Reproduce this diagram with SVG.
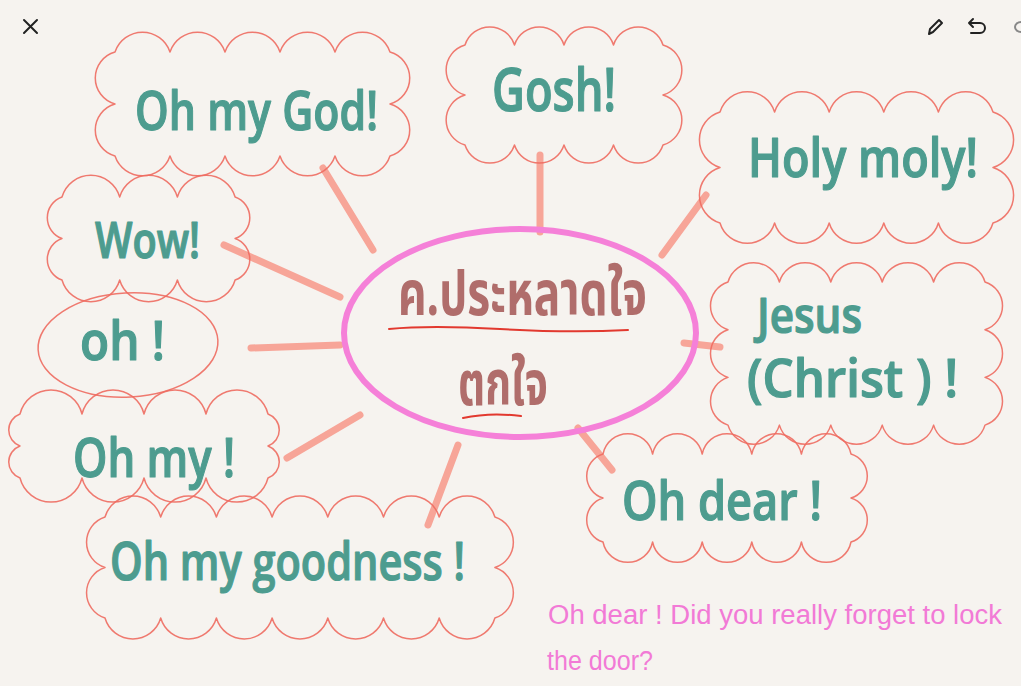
<svg xmlns="http://www.w3.org/2000/svg" width="1021" height="686" viewBox="0 0 1021 686">
<style>
.bg{fill:#f6f3ef}
.cloud{fill:none;stroke:#ee6c61;stroke-width:1.5;stroke-linejoin:round;opacity:.9}
.conn{stroke:#f7a598;stroke-width:7;stroke-linecap:round;fill:none}
.lbl{font-family:"Open Sans","Noto Sans",sans-serif;font-weight:600;fill:#4d9c8f;stroke:#4d9c8f;stroke-width:1.2;stroke-linejoin:round}
.thai{font-family:"Noto Sans Thai","Noto Sans","DejaVu Sans",sans-serif;font-weight:700;fill:#b06d6b}
.ul{stroke:#e2392f;stroke-width:2;fill:none;stroke-linecap:round}
.note{font-family:"Liberation Sans","Noto Sans",sans-serif;fill:#f27ad6}
.ui{stroke:#222;stroke-width:2;fill:none;stroke-linecap:round;stroke-linejoin:round}
</style>
<rect class="bg" x="0" y="0" width="1021" height="686"/>
<g id="toolbar">
<path class="ui" d="M24 20 L37 33 M37 20 L24 33"/>
<path class="ui" d="M929 34 L930 29 L939 20 L942 23 L933 32 Z" stroke-width="1.8"/>
<path class="ui" d="M973 19 L969 23 L973 27 M969 23 L980 23 A5 5 0 0 1 980 33 L971 33" stroke-width="1.8"/>
<path d="M1021 22 A6 5 0 0 0 1021 32" stroke="#888" stroke-width="2" fill="none"/>
</g>
<g id="connectors">
<line class="conn" x1="323" y1="168" x2="373" y2="250"/>
<line class="conn" x1="540" y1="155" x2="540" y2="232"/>
<line class="conn" x1="706" y1="195" x2="662" y2="255"/>
<line class="conn" x1="224" y1="245" x2="340" y2="297"/>
<line class="conn" x1="251" y1="348" x2="340" y2="345"/>
<line class="conn" x1="287" y1="458" x2="360" y2="415"/>
<line class="conn" x1="458" y1="445" x2="428" y2="525"/>
<line class="conn" x1="578" y1="428" x2="612" y2="470"/>
<line class="conn" x1="684" y1="343" x2="720" y2="347"/>
</g>
<g id="center">
<ellipse cx="520" cy="333" rx="176" ry="104" fill="none" stroke="#f580d8" stroke-width="6"/>
<text class="thai" x="398" y="315" font-size="62" textLength="249" lengthAdjust="spacingAndGlyphs">ค.ประหลาดใจ</text>
<path class="ul" d="M389 329 Q430 325 500 329 T628 330"/>
<text class="thai" x="458" y="405" font-size="62" textLength="90" lengthAdjust="spacingAndGlyphs">ตกใจ</text>
<path class="ul" d="M463 418 Q490 412 521 416"/>
</g>
<g id="n-ohmygod">
<path class="cloud" d="M115 52 a29 29 0 0 1 55 0 a29 29 0 0 1 55 0 a29 29 0 0 1 55 0 a29 29 0 0 1 55 0 a29 29 0 0 1 55 0 a27 27 0 0 1 0 52 a27 27 0 0 1 0 52 a29 29 0 0 1 -55 0 a29 29 0 0 1 -55 0 a29 29 0 0 1 -55 0 a29 29 0 0 1 -55 0 a29 29 0 0 1 -55 0 a27 27 0 0 1 0 -52 a27 27 0 0 1 0 -52 Z"/>
<text class="lbl" x="135" y="130" font-size="54" textLength="243" lengthAdjust="spacingAndGlyphs">Oh my God!</text>
</g>
<g id="n-gosh">
<path class="cloud" d="M465 45 a26 26 0 0 1 49.5 0 a26 26 0 0 1 49.5 0 a26 26 0 0 1 49.5 0 a26 26 0 0 1 49.5 0 a26 26 0 0 1 0 50 a26 26 0 0 1 0 50 a26 26 0 0 1 -49.5 0 a26 26 0 0 1 -49.5 0 a26 26 0 0 1 -49.5 0 a26 26 0 0 1 -49.5 0 a26 26 0 0 1 0 -50 a26 26 0 0 1 0 -50 Z"/>
<text class="lbl" x="492" y="111" font-size="60" textLength="124" lengthAdjust="spacingAndGlyphs">Gosh!</text>
</g>
<g id="n-holymoly">
<path class="cloud" d="M720 112 a28.5 28.5 0 0 1 54.6 0 a28.5 28.5 0 0 1 54.6 0 a28.5 28.5 0 0 1 54.6 0 a28.5 28.5 0 0 1 54.6 0 a28.5 28.5 0 0 1 54.6 0 a29 29 0 0 1 0 55.5 a29 29 0 0 1 0 55.5 a28.5 28.5 0 0 1 -54.6 0 a28.5 28.5 0 0 1 -54.6 0 a28.5 28.5 0 0 1 -54.6 0 a28.5 28.5 0 0 1 -54.6 0 a28.5 28.5 0 0 1 -54.6 0 a29 29 0 0 1 0 -55.5 a29 29 0 0 1 0 -55.5 Z"/>
<text class="lbl" x="748" y="177" font-size="54" textLength="230" lengthAdjust="spacingAndGlyphs">Holy moly!</text>
</g>
<g id="n-wow">
<path class="cloud" d="M62 197 a30 30 0 0 1 57.7 0 a30 30 0 0 1 57.7 0 a30 30 0 0 1 57.7 0 a22 22 0 0 1 0 41.5 a22 22 0 0 1 0 41.5 a30 30 0 0 1 -57.7 0 a30 30 0 0 1 -57.7 0 a30 30 0 0 1 -57.7 0 a22 22 0 0 1 0 -41.5 a22 22 0 0 1 0 -41.5 Z"/>
<text class="lbl" x="95" y="258" font-size="50" textLength="105" lengthAdjust="spacingAndGlyphs">Wow!</text>
</g>
<g id="n-oh">
<ellipse class="cloud" cx="128" cy="345" rx="90" ry="52" transform="rotate(-3 128 345)"/>
<text class="lbl" x="80" y="360" font-size="54" textLength="85" lengthAdjust="spacingAndGlyphs">oh !</text>
</g>
<g id="n-ohmy">
<path class="cloud" d="M20 414 a32 32 0 0 1 62 0 a32 32 0 0 1 62 0 a32 32 0 0 1 62 0 a32 32 0 0 1 62 0 a17 17 0 0 1 0 32 a17 17 0 0 1 0 32 a32 32 0 0 1 -62 0 a32 32 0 0 1 -62 0 a32 32 0 0 1 -62 0 a32 32 0 0 1 -62 0 a17 17 0 0 1 0 -32 a17 17 0 0 1 0 -32 Z"/>
<text class="lbl" x="73" y="477" font-size="54" textLength="162" lengthAdjust="spacingAndGlyphs">Oh my !</text>
</g>
<g id="n-goodness">
<path class="cloud" d="M105 517 a29 29 0 0 1 55.7 0 a29 29 0 0 1 55.7 0 a29 29 0 0 1 55.7 0 a29 29 0 0 1 55.7 0 a29 29 0 0 1 55.7 0 a29 29 0 0 1 55.7 0 a29 29 0 0 1 55.7 0 a26.5 26.5 0 0 1 0 50.5 a26.5 26.5 0 0 1 0 50.5 a29 29 0 0 1 -55.7 0 a29 29 0 0 1 -55.7 0 a29 29 0 0 1 -55.7 0 a29 29 0 0 1 -55.7 0 a29 29 0 0 1 -55.7 0 a29 29 0 0 1 -55.7 0 a29 29 0 0 1 -55.7 0 a26.5 26.5 0 0 1 0 -50.5 a26.5 26.5 0 0 1 0 -50.5 Z"/>
<text class="lbl" x="110" y="580" font-size="52" textLength="355" lengthAdjust="spacingAndGlyphs">Oh my goodness !</text>
</g>
<g id="n-ohdear">
<path class="cloud" d="M603 454 a25.3 25.3 0 0 1 49.6 0 a25.3 25.3 0 0 1 49.6 0 a25.3 25.3 0 0 1 49.6 0 a25.3 25.3 0 0 1 49.6 0 a25.3 25.3 0 0 1 49.6 0 a23 23 0 0 1 0 44 a23 23 0 0 1 0 44 a25.3 25.3 0 0 1 -49.6 0 a25.3 25.3 0 0 1 -49.6 0 a25.3 25.3 0 0 1 -49.6 0 a25.3 25.3 0 0 1 -49.6 0 a25.3 25.3 0 0 1 -49.6 0 a23 23 0 0 1 0 -44 a23 23 0 0 1 0 -44 Z"/>
<text class="lbl" x="622" y="520" font-size="54" textLength="200" lengthAdjust="spacingAndGlyphs">Oh dear !</text>
</g>
<g id="n-jesus">
<path class="cloud" d="M728 282 a26.8 26.8 0 0 1 51.4 0 a26.8 26.8 0 0 1 51.4 0 a26.8 26.8 0 0 1 51.4 0 a26.8 26.8 0 0 1 51.4 0 a26.8 26.8 0 0 1 51.4 0 a25 25 0 0 1 0 47.7 a25 25 0 0 1 0 47.7 a25 25 0 0 1 0 47.7 a26.8 26.8 0 0 1 -51.4 0 a26.8 26.8 0 0 1 -51.4 0 a26.8 26.8 0 0 1 -51.4 0 a26.8 26.8 0 0 1 -51.4 0 a26.8 26.8 0 0 1 -51.4 0 a25 25 0 0 1 0 -47.7 a25 25 0 0 1 0 -47.7 a25 25 0 0 1 0 -47.7 Z"/>
<text class="lbl" x="757" y="333" font-size="48" textLength="105" lengthAdjust="spacingAndGlyphs">Jesus</text>
<text class="lbl" x="747" y="397" font-size="52" textLength="211" lengthAdjust="spacingAndGlyphs">(Christ ) !</text>
</g>
<g id="note">
<text class="note" x="548" y="624" font-size="27" textLength="454" lengthAdjust="spacingAndGlyphs">Oh dear ! Did you really forget to lock</text>
<text class="note" x="547" y="670" font-size="27" textLength="106" lengthAdjust="spacingAndGlyphs">the door?</text>
</g>
</svg>
